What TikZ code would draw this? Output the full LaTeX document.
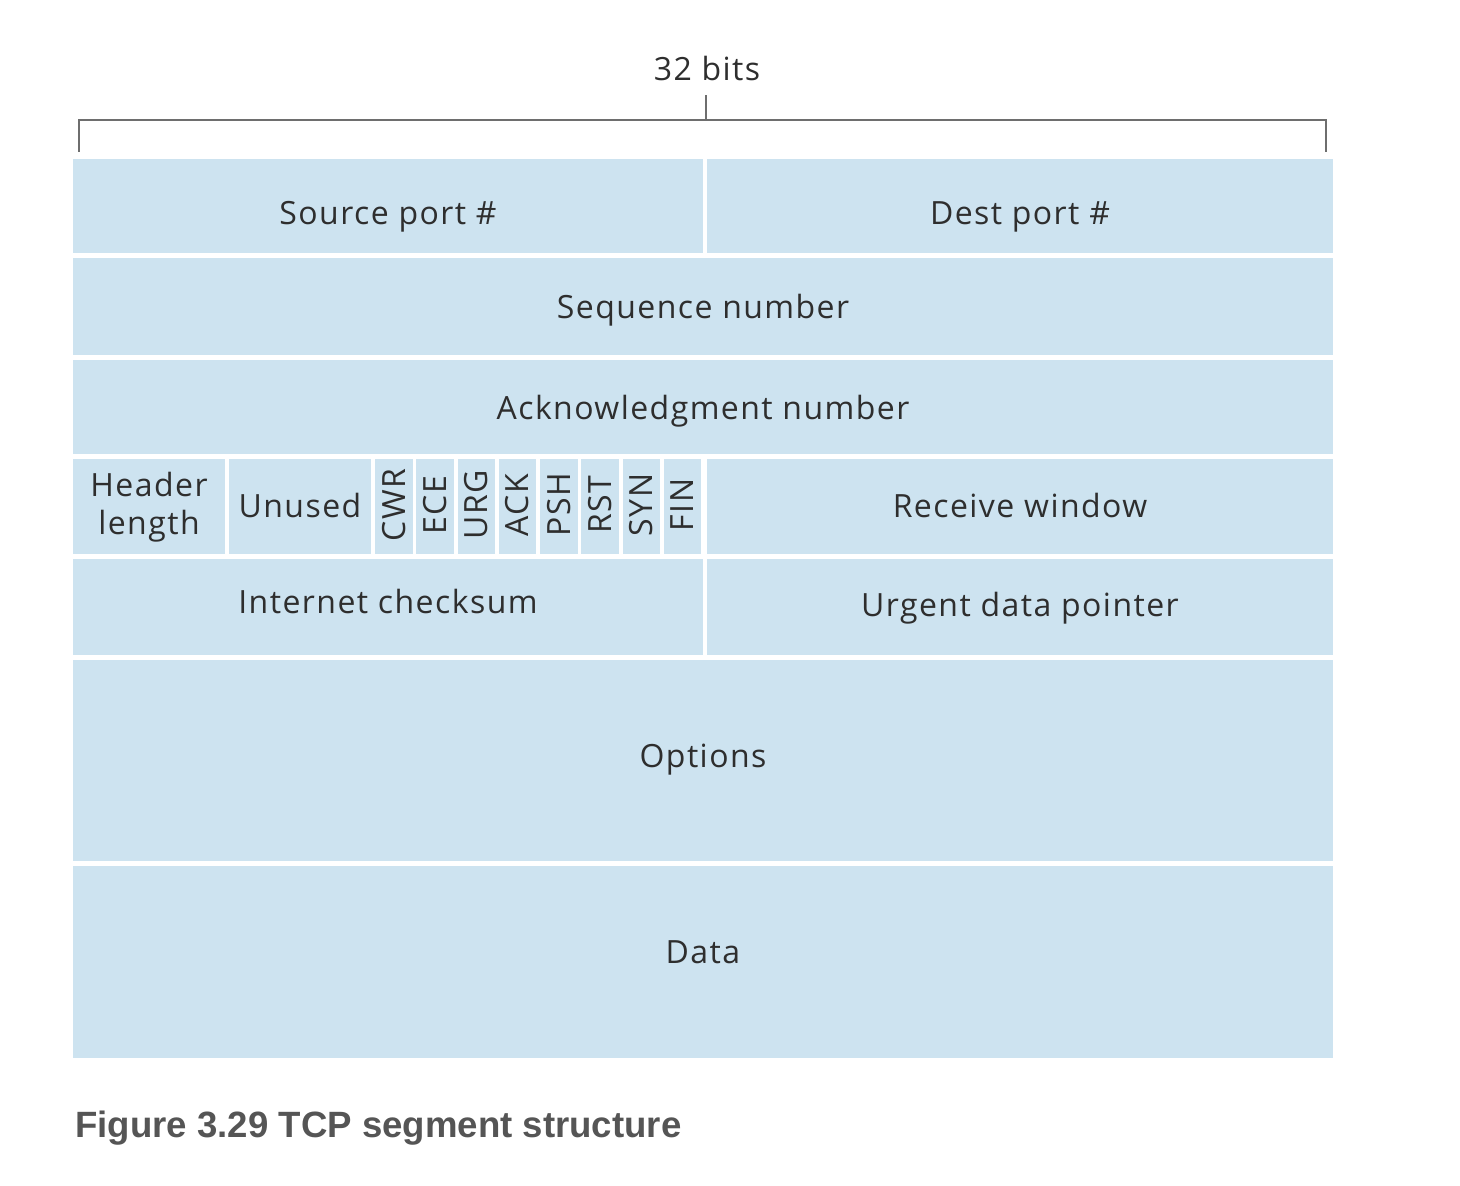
\documentclass[tikz,border=0pt]{standalone}
\usepackage{fontspec}
\setmainfont{Open Sans}[LetterSpace=4.5]
\newfontfamily\capfont{Liberation Sans}
\usetikzlibrary{fit}
\definecolor{cellblue}{HTML}{CDE3F0}
\definecolor{txt}{HTML}{2E2E2E}
\definecolor{brk}{HTML}{6E6E6E}
\definecolor{capgray}{HTML}{555555}
\tikzset{
  cell/.style={fill=cellblue, draw=none, inner sep=0pt},
  lbl/.style={text=txt, inner sep=0pt, font=\fontsize{16}{19}\selectfont, align=center},
  brace/.style={draw=brk, line width=1pt}
}
\begin{document}
\begin{tikzpicture}[x=0.5pt,y=-0.5pt]
\useasboundingbox (0,0) rectangle (1460,1186);
% bracket
\coordinate (bl) at (79,152);
\coordinate (br) at (1326,152);
\coordinate (bm) at (706,120);
\coordinate (bt) at (706,95);
\draw[brace] (bl) |- (bm) -| (br);
\draw[brace] (bm) -- (bt);
\node[lbl, anchor=base] (bits) at (707,81) {32 bits};
% row 1
\node[cell, fit={(73,159)(703,253)}] (src) {};
\node[cell, fit={(707,159)(1333,253)}] (dst) {};
% row 2
\node[cell, fit={(73,258)(1333,355)}] (seq) {};
% row 3
\node[cell, fit={(73,360)(1333,454)}] (ack) {};
% row 4
\node[cell, fit={(73,459)(225,554)}] (hlen) {};
\node[cell, fit={(229,459)(371,554)}] (unused) {};
\foreach \n [count=\i from 0] in {CWR,ECE,URG,ACK,PSH,RST,SYN,FIN} {
  \pgfmathsetmacro{\xa}{375+41.25*\i}
  \pgfmathsetmacro{\xb}{\xa+37.5}
  \node[cell, fit={(\xa,459)(\xb,554)}] (f\n) {};
  \node[lbl, rotate=90, anchor=center] (t\n) at (f\n.center |- 0,505) {\n};
}
\node[cell, fit={(707,459)(1333,554)}] (rwin) {};
% row 5
\node[cell, fit={(73,559)(703,655)}] (csum) {};
\node[cell, fit={(707,559)(1333,655)}] (urg) {};
% row 6
\node[cell, fit={(73,660)(1333,861)}] (opt) {};
% row 7
\node[cell, fit={(73,866)(1333,1058)}] (data) {};
% labels
\node[lbl, anchor=base] (tsrc) at (src.center |- 0,225) {Source port \#};
\node[lbl, anchor=base] (tdst) at (dst.center |- 0,225) {Dest port \#};
\node[lbl, anchor=base] (tseq) at (seq.center |- 0,319) {Sequence number};
\node[lbl, anchor=base] (tack) at (ack.center |- 0,420) {Acknowledgment number};
\node[lbl, anchor=base] (thl1) at (hlen.center |- 0,497) {Header};
\node[lbl, anchor=base] (thl2) at (hlen.center |- 0,535) {length};
\node[lbl, anchor=base] (tunused) at (unused.center |- 0,518) {Unused};
\node[lbl, anchor=base] (trwin) at (rwin.center |- 0,518) {Receive window};
\node[lbl, anchor=base] (tcsum) at (csum.center |- 0,613) {Internet checksum};
\node[lbl, anchor=base] (turg) at (urg.center |- 0,617) {Urgent data pointer};
\node[lbl, anchor=base] (topt) at (opt.center |- 0,767) {Options};
\node[lbl, anchor=base] (tdata) at (data.center |- 0,963) {Data};
% caption
\node[anchor=base west, inner sep=0pt, text=capgray, font=\capfont\bfseries\fontsize{18.3}{21}\selectfont] (cap) at (75,1137) {Figure 3.29 TCP segment structure};
\end{tikzpicture}
\end{document}
